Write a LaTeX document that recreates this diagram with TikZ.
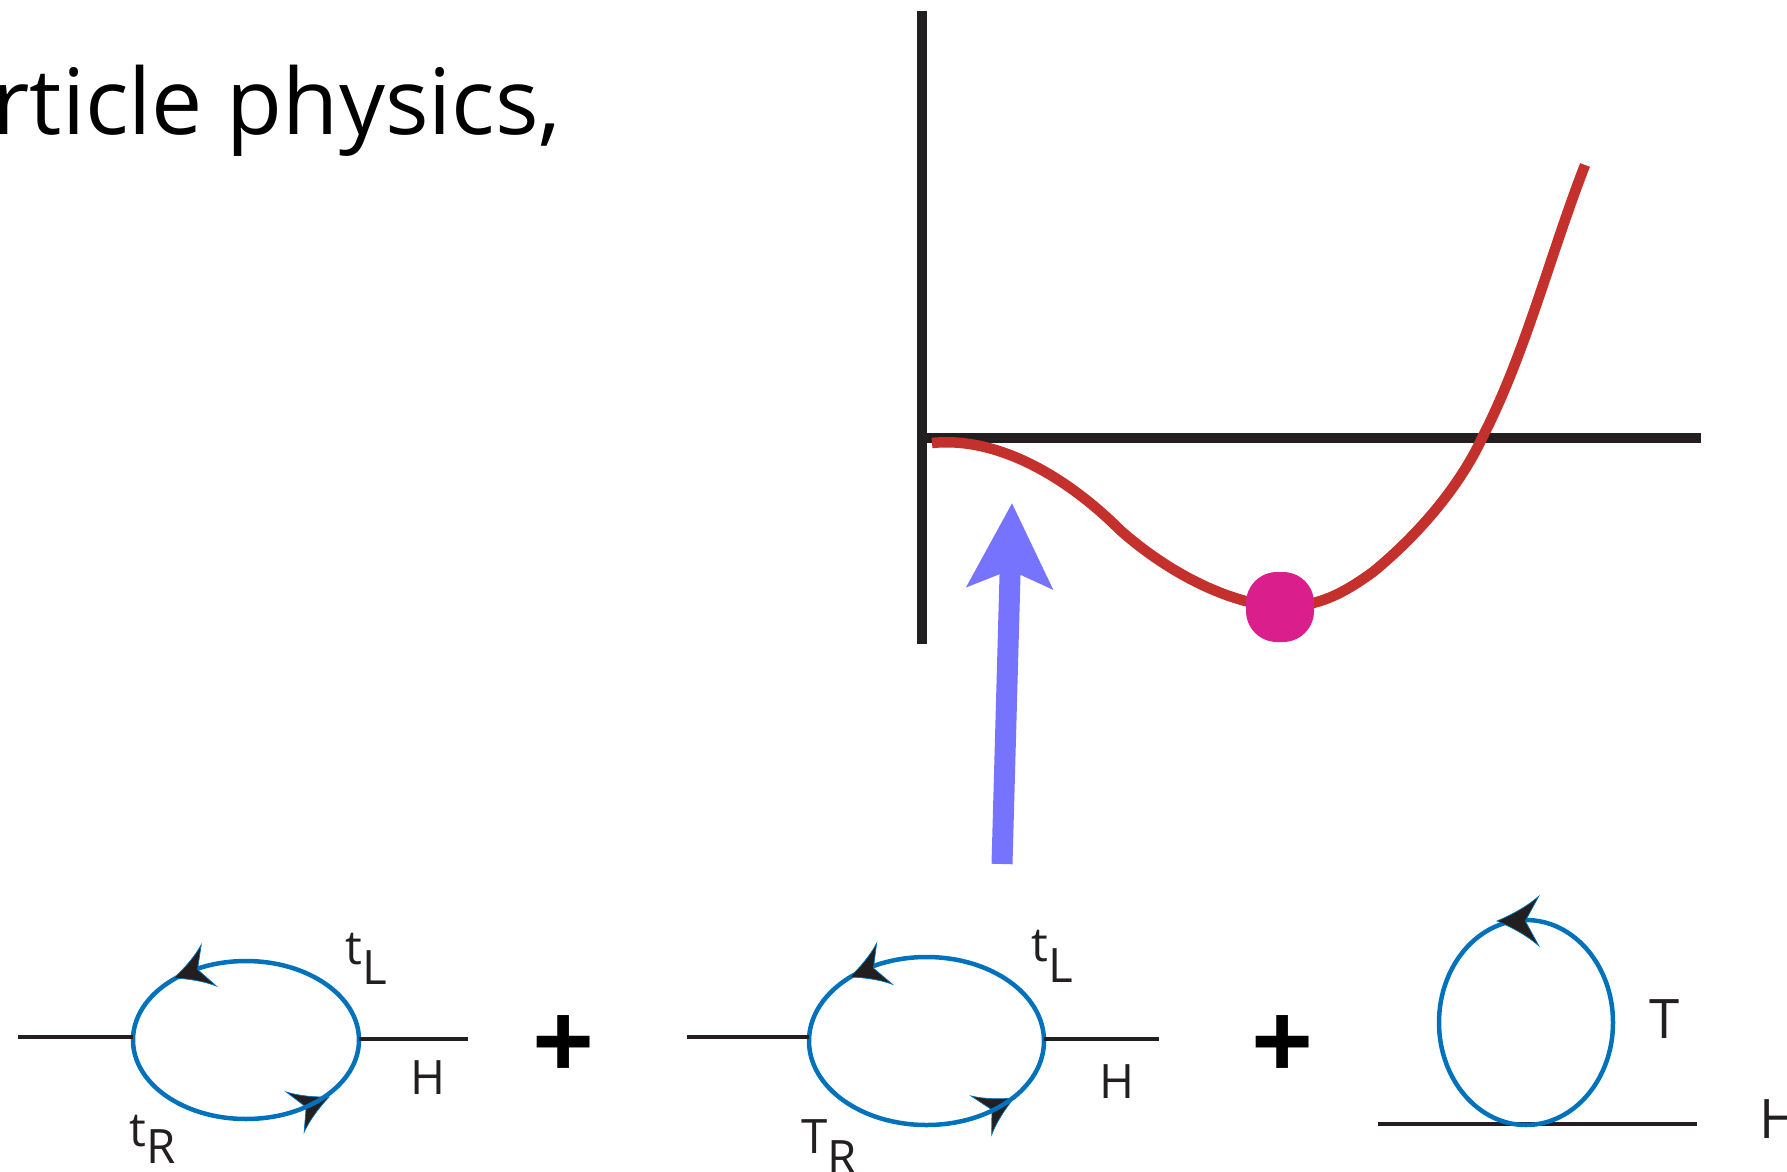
\documentclass[tikz,border=0pt]{standalone}
\usepackage{fontspec}
\setmainfont{Open Sans}
\usepackage{xcolor}
\usepackage{tikz}
\usetikzlibrary{arrows.meta,positioning,shapes.geometric}
\definecolor{linedark}{HTML}{231F20}
\definecolor{loopblue}{HTML}{0072BC}
\definecolor{curvered}{HTML}{C4302B}
\definecolor{dotpink}{HTML}{DA1F8D}
\definecolor{arrowblue}{HTML}{7673FF}
\tikzset{
  axisline/.style={draw=linedark, line width=0.1cm},
  potential/.style={draw=curvered, line width=0.105cm},
  vacuum/.style={draw=none, fill=dotpink, rounded corners=0.31cm, minimum width=0.68cm, minimum height=0.70cm, inner sep=0pt},
  bigarrow/.style={draw=arrowblue, line width=0.21cm, -{Stealth[length=0.84cm, width=0.84cm, inset=0.17cm]}},
  legline/.style={draw=linedark, line width=0.04cm},
  fermionloop/.style={draw=loopblue, ellipse, line width=0.045cm, inner sep=0pt, outer sep=0pt},
  looplabel/.style={anchor=base west, inner sep=0pt, text=linedark, font=\fontsize{13.5}{16}\selectfont},
  bigtext/.style={anchor=base west, inner sep=0pt, font=\fontsize{26}{32}\selectfont},
  plussign/.style={inner sep=0pt, font=\bfseries\fontsize{31}{36}\selectfont},
  fermionhead/.pic={\filldraw[draw=loopblue, line width=0.2pt, fill=linedark] (0,0) .. controls (-0.12,0.05) and (-0.27,0.13) .. (-0.37,0.22) -- (-0.25,0) -- (-0.37,-0.22) .. controls (-0.27,-0.13) and (-0.12,-0.05) .. (0,0) -- cycle;}
}
\begin{document}
\begin{tikzpicture}
  \useasboundingbox (0,0) rectangle (17.87,11.71);
  \clip (0,0) rectangle (17.87,11.71);

  \node[bigtext] (title) at (-0.08,10.36) {rticle physics,};

  \coordinate (axistop) at (9.22,11.60);
  \coordinate (axisbottom) at (9.22,5.27);
  \coordinate (axisleft) at (9.22,7.33);
  \coordinate (axisright) at (17.01,7.33);
  \draw[axisline] (axistop) -- (axisbottom);
  \draw[axisline] (axisleft) -- (axisright);
  \coordinate (curvestart) at (9.32,7.28);
  \coordinate (curveend) at (15.85,10.06);
  \draw[potential] (curvestart) .. controls (10.00,7.35) and (10.70,6.91) .. (11.20,6.41) .. controls (11.65,6.01) and (12.25,5.68) .. (12.80,5.64) .. controls (13.20,5.64) and (13.45,5.79) .. (13.73,5.99) .. controls (14.30,6.46) and (14.65,6.96) .. (14.82,7.33) .. controls (15.25,8.16) and (15.50,9.16) .. (curveend);
  \node[vacuum] (minimum) at (12.80,5.64) {};

  \coordinate (arrowtail) at (10.02,3.07);
  \coordinate (arrowtip) at (10.12,6.68);
  \draw[bigarrow] (arrowtail) -- (arrowtip);

  % first loop
  \pic[rotate=24] at (3.29,0.74) {fermionhead};
  \node[fermionloop, minimum width=2.26cm, minimum height=1.58cm] (loopone) at (2.46,1.31) {};
  \pic[rotate=200] at (1.74,1.93) {fermionhead};
  \coordinate (legonea) at (0.18,1.34);
  \coordinate (legoneb) at (4.68,1.325);
  \draw[legline] (legonea) -- (legonea -| loopone.west);
  \draw[legline] (loopone.east |- legoneb) -- (legoneb);
  \node[looplabel] (tlone) at (3.45,2.07) {t\raisebox{-0.20cm}{L}};
  \node[looplabel] (hone) at (4.10,0.77) {H};
  \node[looplabel] (trone) at (1.29,0.25) {t\raisebox{-0.17cm}{R}};

  \node[plussign] (plusone) at (5.64,1.23) {+};

  % second loop
  \pic[rotate=28] at (10.14,0.73) {fermionhead};
  \node[fermionloop, minimum width=2.35cm, minimum height=1.68cm] (looptwo) at (9.265,1.30) {};
  \pic[rotate=201] at (8.50,1.94) {fermionhead};
  \coordinate (legtwoa) at (6.87,1.34);
  \coordinate (legtwob) at (11.59,1.32);
  \draw[legline] (legtwoa) -- (legtwoa -| looptwo.west);
  \draw[legline] (looptwo.east |- legtwob) -- (legtwob);
  \node[looplabel] (tltwo) at (10.31,2.10) {t\raisebox{-0.21cm}{L}};
  \node[looplabel] (htwo) at (10.99,0.73) {H};
  \node[looplabel] (trtwo) at (8.01,0.18) {T\raisebox{-0.21cm}{R}};

  \node[plussign] (plustwo) at (12.83,1.225) {+};

  % third loop
  \coordinate (legthreea) at (13.78,0.47);
  \coordinate (legthreeb) at (16.97,0.47);
  \draw[legline] (legthreea) -- (legthreeb);
  \node[fermionloop, minimum width=1.74cm, minimum height=2.05cm] (loopthree) at (15.26,1.485) {};
  \pic[scale=1.13, rotate=180] at (14.97,2.50) {fermionhead};
  \node[looplabel, font=\fontsize{15.5}{18}\selectfont] (tthree) at (16.49,1.33) {T};
  \node[looplabel, font=\fontsize{15.5}{18}\selectfont] (hthree) at (17.59,0.33) {H};
\end{tikzpicture}
\end{document}
